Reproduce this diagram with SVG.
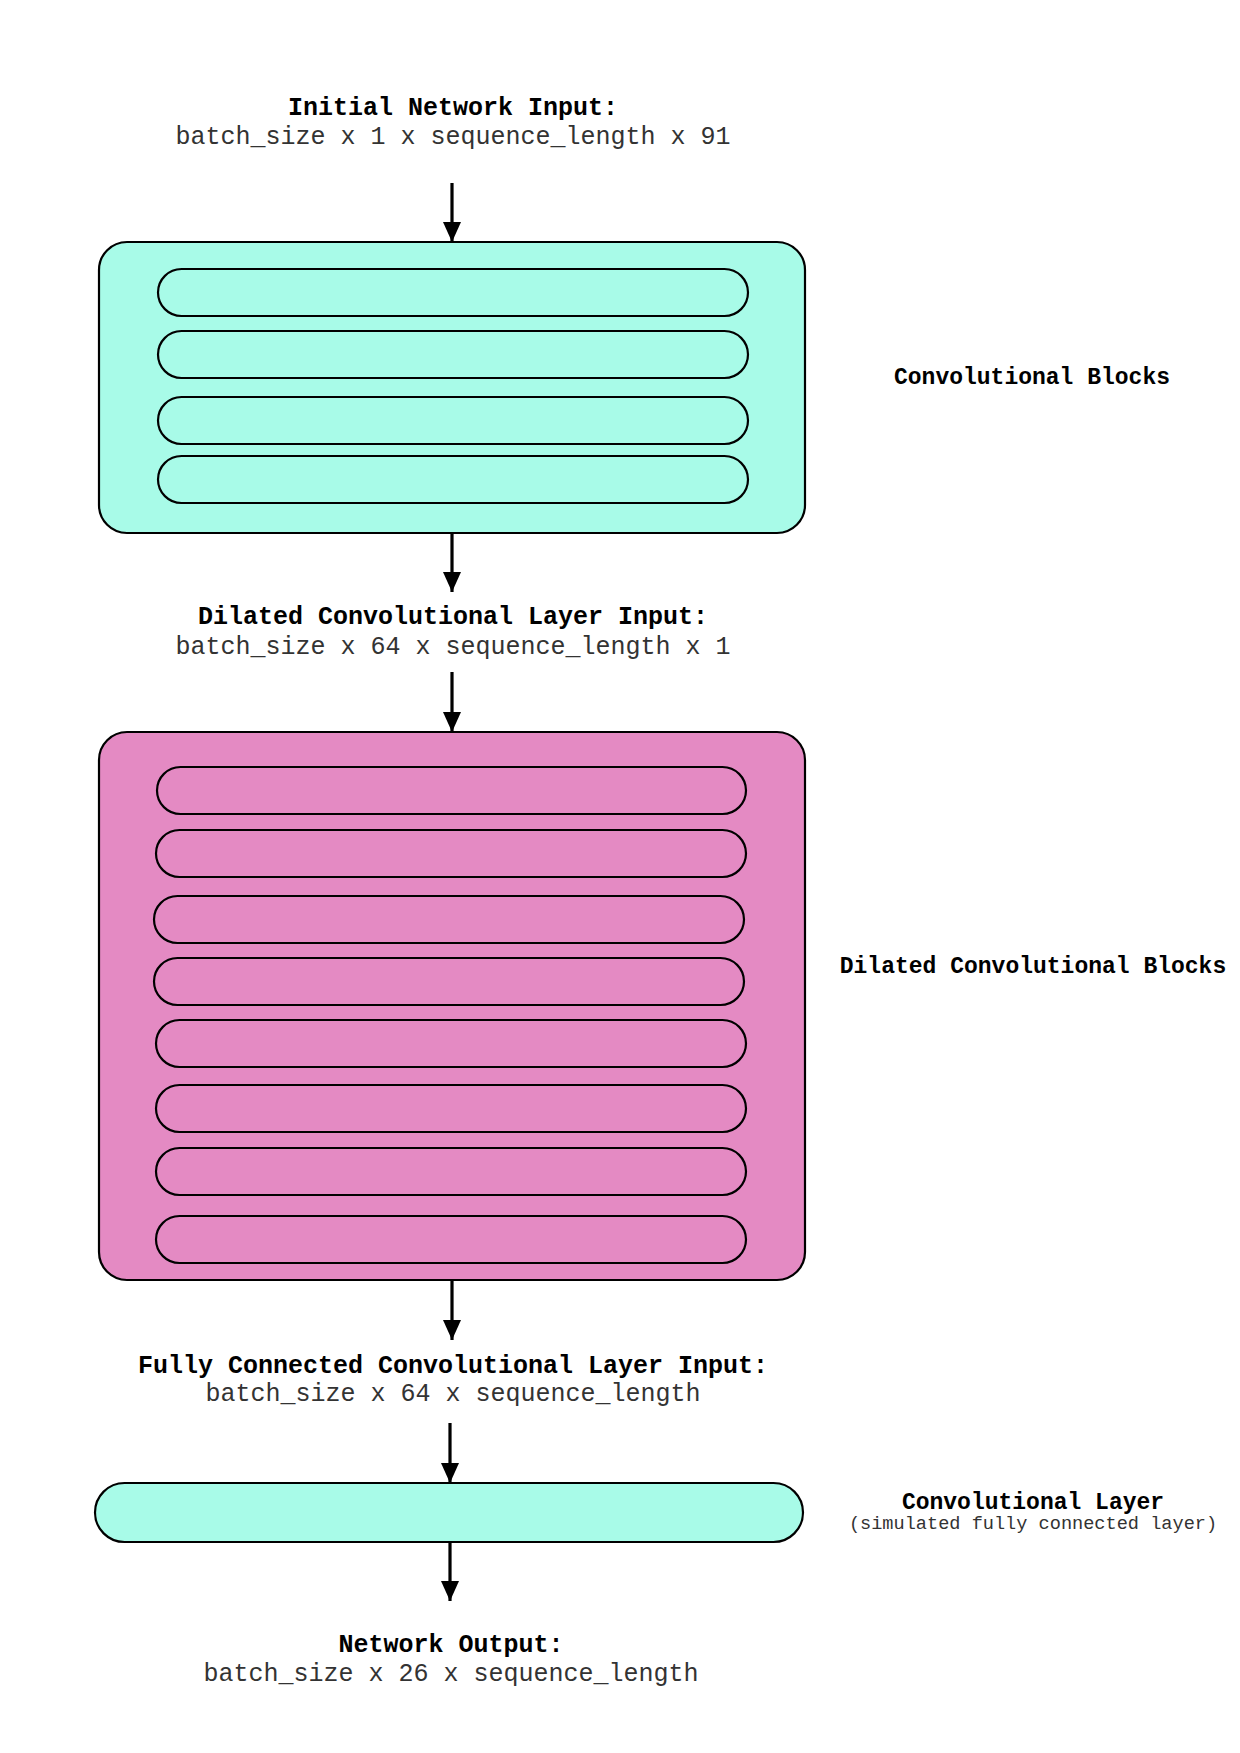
<svg xmlns="http://www.w3.org/2000/svg" width="1240" height="1753" viewBox="0 0 1240 1753">
<defs>
<style>
.t{font-family:"Liberation Mono","Courier New",monospace;font-weight:bold;font-size:25px;fill:#000;text-anchor:middle}
.s{font-family:"Liberation Mono","Courier New",monospace;font-size:25px;fill:#333;text-anchor:middle}
.l{font-family:"Liberation Mono","Courier New",monospace;font-weight:bold;font-size:23px;fill:#000;text-anchor:middle}
.ls{font-family:"Liberation Mono","Courier New",monospace;font-size:18.6px;fill:#333;text-anchor:middle}
.teal{fill:#A8FBE8;stroke:#000;stroke-width:2.2}
.pink{fill:#E48AC3;stroke:#000;stroke-width:2.2}
.pt{fill:#A8FBE8;stroke:#000;stroke-width:2.2}
.pp{fill:#E48AC3;stroke:#000;stroke-width:2.2}
.c{stroke:#000;stroke-width:3.2;fill:none;marker-end:url(#ah)}
</style>
<marker id="ah" markerUnits="userSpaceOnUse" markerWidth="20" markerHeight="20" viewBox="0 0 20 20" refX="20" refY="10" orient="auto">
<path d="M0,1 L20,10 L0,19 Z" fill="#000"/>
</marker>
</defs>
<rect width="1240" height="1753" fill="#fff"/>

<g id="input-label">
<text class="t" x="453" y="115">Initial Network Input:</text>
<text class="s" x="453" y="144">batch_size x 1 x sequence_length x 91</text>
</g>

<g id="conv-blocks">
<rect class="teal" x="99" y="242" width="706" height="291" rx="28" ry="28"/>
<rect class="pt" x="158" y="269" width="590" height="47" rx="23.5" ry="23.5"/>
<rect class="pt" x="158" y="331" width="590" height="47" rx="23.5" ry="23.5"/>
<rect class="pt" x="158" y="397" width="590" height="47" rx="23.5" ry="23.5"/>
<rect class="pt" x="158" y="456" width="590" height="47" rx="23.5" ry="23.5"/>
<text class="l" x="1032" y="384">Convolutional Blocks</text>
</g>

<g id="dilated-input-label">
<text class="t" x="453" y="624">Dilated Convolutional Layer Input:</text>
<text class="s" x="453" y="654">batch_size x 64 x sequence_length x 1</text>
</g>

<g id="dilated-blocks">
<rect class="pink" x="99" y="732" width="706" height="548" rx="28" ry="28"/>
<rect class="pp" x="157" y="767" width="589" height="47" rx="23.5" ry="23.5"/>
<rect class="pp" x="156" y="830" width="590" height="47" rx="23.5" ry="23.5"/>
<rect class="pp" x="154" y="896" width="590" height="47" rx="23.5" ry="23.5"/>
<rect class="pp" x="154" y="958" width="590" height="47" rx="23.5" ry="23.5"/>
<rect class="pp" x="156" y="1020" width="590" height="47" rx="23.5" ry="23.5"/>
<rect class="pp" x="156" y="1085" width="590" height="47" rx="23.5" ry="23.5"/>
<rect class="pp" x="156" y="1148" width="590" height="47" rx="23.5" ry="23.5"/>
<rect class="pp" x="156" y="1216" width="590" height="47" rx="23.5" ry="23.5"/>
<text class="l" x="1033" y="973">Dilated Convolutional Blocks</text>
</g>

<g id="fc-input-label">
<text class="t" x="453" y="1373">Fully Connected Convolutional Layer Input:</text>
<text class="s" x="453" y="1401">batch_size x 64 x sequence_length</text>
</g>

<g id="conv-layer">
<rect class="teal" x="95" y="1483" width="708" height="59" rx="29.5" ry="29.5"/>
<text class="l" x="1033" y="1509">Convolutional Layer</text>
<text class="ls" x="1033" y="1529">(simulated fully connected layer)</text>
</g>

<g id="output-label">
<text class="t" x="451" y="1652">Network Output:</text>
<text class="s" x="451" y="1681">batch_size x 26 x sequence_length</text>
</g>

<g id="connectors">
<line class="c" x1="452" y1="183" x2="452" y2="242"/>
<line class="c" x1="452" y1="533" x2="452" y2="592"/>
<line class="c" x1="452" y1="672" x2="452" y2="732"/>
<line class="c" x1="452" y1="1280" x2="452" y2="1340"/>
<line class="c" x1="450" y1="1423" x2="450" y2="1483"/>
<line class="c" x1="450" y1="1542" x2="450" y2="1601"/>
</g>
</svg>
